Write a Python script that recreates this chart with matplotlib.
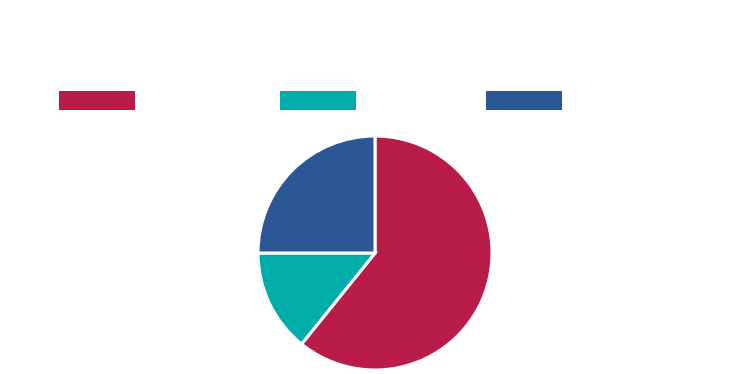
import matplotlib
matplotlib.use("Agg")
import matplotlib.pyplot as plt
from matplotlib.patches import Patch

categories = ["A", "B", "C"]
values = [60.8, 14.2, 25.0]
colors = ["#B91C48", "#00ADA9", "#2B5797"]
legend_x = [59, 280, 486]  # legend entry left edges in pixels

W, H = 750, 374
fig = plt.figure(figsize=(W / 100, H / 100), dpi=100)
fig.patch.set_facecolor("white")

r = 117
cx, cy = 375, 253
ax = fig.add_axes([(cx - r) / W, (H - cy - r) / H, 2 * r / W, 2 * r / H])
ax.pie(values, colors=colors, startangle=90, counterclock=False,
       wedgeprops=dict(edgecolor="white", linewidth=2.2))
ax.set_xlim(-1, 1)
ax.set_ylim(-1, 1)
ax.set_aspect("auto")
ax.axis("off")

fs = 10
hh_pt = 19 * 72 / 100
handleheight = (hh_pt / fs - 0.245) / 0.65
for cat, col, lx in zip(categories, colors, legend_x):
    leg = fig.legend([Patch(facecolor=col, edgecolor="none")], [""],
                     loc="center left", bbox_to_anchor=(lx / W, (H - 100.5) / H),
                     frameon=False, borderpad=0, borderaxespad=0, handletextpad=0,
                     handlelength=76 * 72 / 100 / fs, handleheight=handleheight,
                     fontsize=fs)

fig.savefig("out.png", dpi=100, facecolor="white")
